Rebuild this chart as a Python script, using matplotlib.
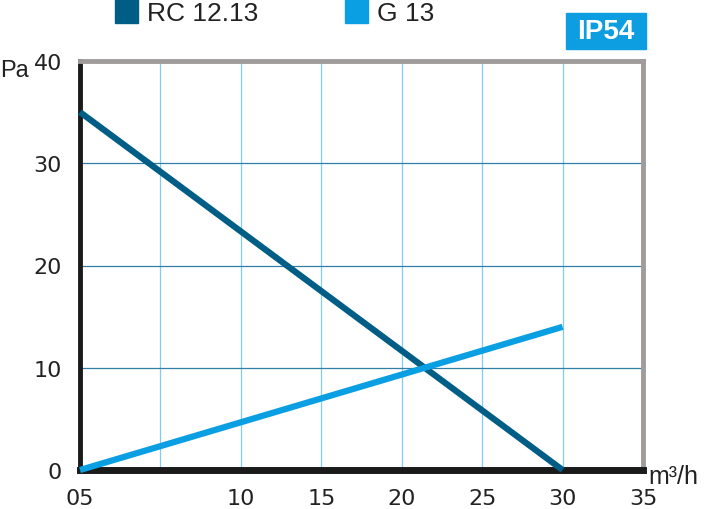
import matplotlib.pyplot as plt

# Pressure drop curves, Pa vs m3/h
flow = [0, 30]
rc_12_13 = [35, 0]
g_13 = [0, 14]

xticks = [0, 5, 10, 15, 20, 25, 30, 35]
xlabels = ['05', '', '10', '15', '20', '25', '30', '35']
yticks = [0, 10, 20, 30, 40]

dark = '#005e86'
light = '#0a9fe2'
txt = '#222222'

plt.rcParams['font.family'] = ['Liberation Sans Narrow', 'DejaVu Sans']

fig = plt.figure(figsize=(7.28, 5.10), dpi=100)
ax = fig.add_axes([80/728, 1 - 471/510, (643 - 80)/728, (471 - 62)/510])

# grid
for x in xticks[1:-1]:
    ax.axvline(x, color='#7fcdf3', lw=0.9, zorder=1)
for y in yticks[1:-1]:
    ax.axhline(y, color='#2f7fa6', lw=0.9, zorder=1)

ax.plot(flow, rc_12_13, color=dark, lw=4.5, solid_capstyle='butt', zorder=3, clip_on=False)
ax.plot(flow, g_13, color=light, lw=4.5, solid_capstyle='butt', zorder=3, clip_on=False)

ax.set_xlim(0, 35)
ax.set_ylim(0, 40)
ax.set_xticks(xticks)
ax.set_xticklabels(xlabels)
ax.set_yticks(yticks)
ax.tick_params(length=0, labelsize=16, colors=txt)
ax.tick_params(axis='x', pad=13)
ax.tick_params(axis='y', pad=13)

ax.spines['left'].set_color('#1a1a1a')
ax.spines['left'].set_linewidth(3.5)
ax.spines['bottom'].set_color('#1a1a1a')
ax.spines['bottom'].set_linewidth(5)
ax.spines['top'].set_color('#a19b9b')
ax.spines['top'].set_linewidth(3.5)
ax.spines['right'].set_color('#a19b9b')
ax.spines['right'].set_linewidth(3.5)

fig.text(0, 1 - 71/510, 'Pa', fontsize=17, family='Liberation Sans', va='center', color=txt)
fig.text(648/728, 1 - 477/510, 'm³/h', fontsize=18, family='Liberation Sans', va='center', color=txt)

# legend
fig.patches.append(plt.Rectangle((115/728, 1 - 24/510), 23/728, 24/510, transform=fig.transFigure, color=dark))
fig.text(147/728, 1 - 14/510, 'RC 12.13', fontsize=19, family='Liberation Sans', va='center', color=txt)
fig.patches.append(plt.Rectangle((345/728, 1 - 24/510), 23/728, 24/510, transform=fig.transFigure, color=light))
fig.text(377/728, 1 - 14/510, 'G 13', fontsize=19, family='Liberation Sans', va='center', color=txt)

fig.patches.append(plt.Rectangle((566/728, 1 - 50/510), 80/728, 36/510, transform=fig.transFigure, color='#0c9ee0'))
fig.text(606/728, 1 - 32/510, 'IP54', fontsize=20, family='Liberation Sans', weight='bold',
         ha='center', va='center', color='white')

plt.savefig('out.png', dpi=100)
